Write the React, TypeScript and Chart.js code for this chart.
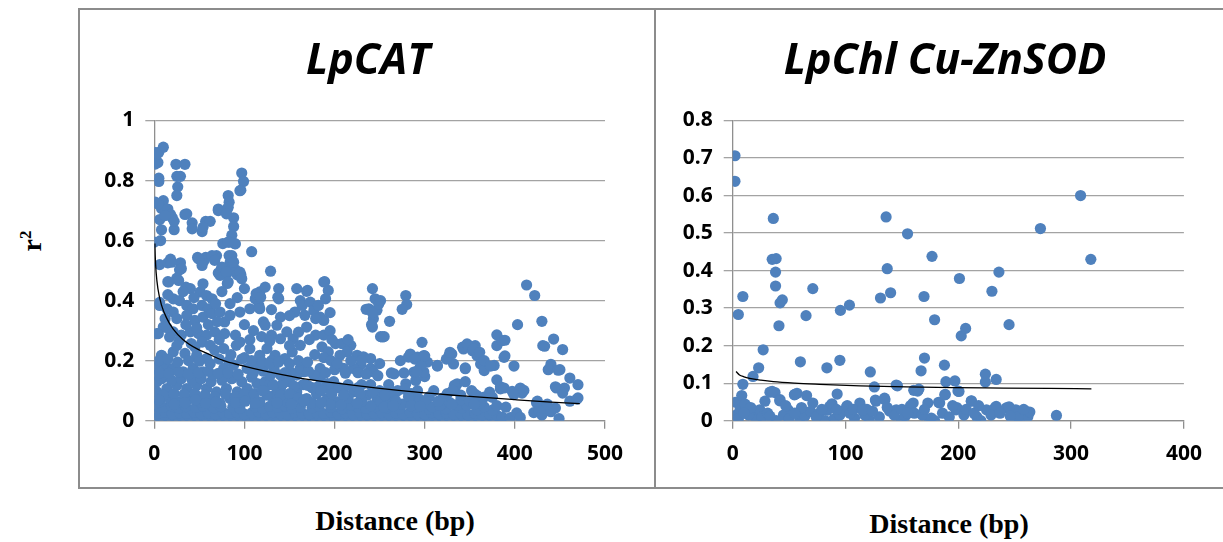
import React, { useEffect, useRef } from 'react';
import { Chart, registerables } from 'chart.js';

Chart.register(...registerables);

// ---------- LpCAT data (distance bp, r^2) ----------
const lpcatHigh: number[][] = [
  [0, 0.894], [5, 0.894], [4, 0.86], [0, 0.86], [10, 0.911], [5, 0.808], [5, 0.797], [1, 0.728], [10, 0.733], [8, 0.707],
  [6, 0.67], [0, 0.595], [7, 0.6], [8, 0.636], [24, 0.854], [34, 0.854], [25, 0.814], [29, 0.814], [26, 0.779], [25, 0.75],
  [15, 0.705], [18, 0.687], [20, 0.676], [22, 0.636], [22, 0.664], [34, 0.687], [42, 0.659], [53, 0.63], [57, 0.664], [62, 0.664],
  [71, 0.705], [81, 0.705], [82, 0.75], [83, 0.728], [88, 0.676], [88, 0.647], [86, 0.618], [83, 0.595], [76, 0.59], [89, 0.59],
  [97, 0.825], [99, 0.797], [96, 0.768], [108, 0.563], [6, 0.52], [15, 0.526], [18, 0.538], [29, 0.526], [28, 0.503], [25, 0.475],
  [15, 0.463], [48, 0.544], [57, 0.544], [55, 0.532], [69, 0.55], [71, 0.492], [74, 0.503], [81, 0.492], [81, 0.457], [83, 0.55],
  [84, 0.526], [90, 0.503], [92, 0.486], [96, 0.486], [129, 0.498], [413, 0.452], [422, 0.417], [19, 0.528], [30, 0.506], [49, 0.539],
  [53, 0.517], [64, 0.55], [67, 0.534], [75, 0.512], [73, 0.484], [80, 0.495], [82, 0.462], [86, 0.55], [88, 0.528], [95, 0.495],
  [97, 0.473], [27, 0.467], [16, 0.462], [189, 0.463], [12, 0.683], [3, 0.888], [1, 0.855], [36, 0.689], [42, 0.639], [54, 0.644],
  [71, 0.7], [82, 0.711], [80, 0.689], [90, 0.589], [82, 0.595], [95, 0.766], [4, 0.722],
];

const lpcatMid: number[][] = [
  [21, 0.406], [28, 0.4], [36, 0.384], [43, 0.373], [53, 0.384], [60, 0.373], [6, 0.384], [14, 0.373], [21, 0.362], [12, 0.34],
  [25, 0.34], [36, 0.351], [45, 0.334], [54, 0.345], [64, 0.357], [73, 0.362], [10, 0.312], [21, 0.296], [30, 0.285], [40, 0.296],
  [49, 0.29], [58, 0.285], [67, 0.296], [4.5, 0.29], [17, 0.279], [28, 0.268], [41, 0.257], [53, 0.262], [62, 0.251], [78, 0.29],
  [78, 0.329], [90, 0.285], [91, 0.251], [84, 0.351], [95, 0.362], [106, 0.373], [116, 0.384], [112, 0.406], [117, 0.429], [8, 0.218],
  [21, 0.229], [34, 0.224], [47, 0.218], [58, 0.207], [67, 0.235], [77, 0.24], [95, 0.262], [106, 0.24], [117, 0.218], [1, 0.174],
  [3, 0.152], [12, 0.185], [21, 0.174], [32, 0.163], [43, 0.174], [54, 0.163], [65, 0.152], [77, 0.174], [88, 0.185], [103, 0.174],
  [114, 0.185], [40, 0.44], [51, 0.429], [54, 0.456], [58, 0.417], [64, 0.406], [35, 0.445], [6, 0.394], [8, 0.216], [3, 0.29],
  [123, 0.445], [138, 0.44], [138, 0.406], [158, 0.44], [169, 0.431], [188, 0.462], [193, 0.434], [190, 0.406], [117, 0.417], [117, 0.373],
  [121, 0.329], [123, 0.318], [140, 0.345], [136, 0.318], [130, 0.285], [140, 0.273], [147, 0.296], [154, 0.273], [162, 0.251], [153, 0.229],
  [145, 0.207], [134, 0.218], [125, 0.24], [156, 0.362], [162, 0.4], [164, 0.384], [173, 0.395], [177, 0.368], [182, 0.384], [184, 0.345],
  [188, 0.334], [179, 0.34], [167, 0.351], [169, 0.312], [179, 0.285], [188, 0.285], [186, 0.246], [193, 0.229], [201, 0.257], [208, 0.257],
  [218, 0.251], [214, 0.229], [206, 0.218], [225, 0.218], [232, 0.213], [240, 0.207], [229, 0.185], [221, 0.174], [210, 0.174], [240, 0.174],
  [243, 0.163], [242, 0.44], [245, 0.406], [238, 0.373], [247, 0.368], [243, 0.34], [242, 0.312], [253, 0.279], [184, 0.174], [177, 0.152],
  [166, 0.163], [158, 0.152], [151, 0.163], [140, 0.152], [129, 0.152], [235, 0.371], [242, 0.36], [249, 0.389], [251, 0.4], [241, 0.32],
  [251, 0.28], [261, 0.331], [170, 0.434], [137, 0.411], [113, 0.423], [118, 0.411],
  [255, 0.28], [279, 0.417], [280, 0.387], [275, 0.371], [297, 0.261], [273, 0.2], [282, 0.212], [292, 0.212], [299, 0.217], [303, 0.195],
  [295, 0.178], [288, 0.162], [299, 0.162], [266, 0.156], [314, 0.184], [327, 0.217], [330, 0.222], [332, 0.189], [343, 0.239], [349, 0.25],
  [345, 0.173], [353, 0.233], [358, 0.217], [362, 0.189], [366, 0.167], [380, 0.25], [386, 0.267], [388, 0.211], [377, 0.184], [356, 0.25],
  [284, 0.222], [289, 0.205], [296, 0.182], [291, 0.164], [263, 0.159], [277, 0.159], [300, 0.216], [314, 0.182], [324, 0.205], [328, 0.228],
  [342, 0.245], [347, 0.256], [354, 0.24], [361, 0.228], [366, 0.2], [373, 0.182], [380, 0.286], [389, 0.268], [389, 0.216], [399, 0.182],
  [403, 0.32], [430, 0.331], [431, 0.25], [443, 0.272], [433, 0.248], [453, 0.237], [440, 0.188], [437, 0.17], [448, 0.168], [450, 0.17],
  [14, 0.31], [35, 0.32], [47, 0.31], [60, 0.32], [70, 0.33], [100, 0.32], [110, 0.3], [119, 0.28], [106, 0.27], [128, 0.265],
  [150, 0.25], [172, 0.27], [160, 0.295], [195, 0.3], [197, 0.27], [215, 0.27], [25, 0.25], [45, 0.245], [72, 0.27], [85, 0.22],
  [100, 0.21], [130, 0.2], [178, 0.22], [188, 0.21], [150, 0.35], [195, 0.36], [130, 0.37], [15, 0.42], [32, 0.43], [100, 0.44],
  [92, 0.41], [75, 0.43], [84, 0.39], [68, 0.39], [44, 0.41],
  [6, 0.16], [16, 0.158], [27, 0.162], [38, 0.155], [49, 0.16], [60, 0.165], [71, 0.158], [82, 0.16], [93, 0.155], [110, 0.16],
  [121, 0.165], [133, 0.17], [145, 0.16], [162, 0.175], [171, 0.165], [190, 0.16], [200, 0.17], [212, 0.158], [226, 0.16], [235, 0.155],
  [248, 0.15], [5, 0.2], [15, 0.205], [26, 0.195], [38, 0.2], [50, 0.198], [62, 0.19], [72, 0.205], [83, 0.2], [97, 0.205],
  [108, 0.2], [120, 0.195], [128, 0.19], [138, 0.195], [150, 0.19], [160, 0.2], [170, 0.195], [196, 0.2], [203, 0.19], [218, 0.2],
  [230, 0.2], [250, 0.19],
];

const lpcatLow: number[][] = [
  [3, 0.13], [3, 0.096], [14, 0.107], [25, 0.118], [36, 0.107], [47, 0.118], [58, 0.107], [69, 0.096], [80, 0.107], [92, 0.096],
  [103, 0.107], [114, 0.124], [6, 0.063], [17, 0.074], [28, 0.063], [40, 0.074], [51, 0.063], [62, 0.069], [73, 0.058], [84, 0.074],
  [95, 0.063], [106, 0.074], [117, 0.063], [8, 0.14], [19, 0.135], [30, 0.14], [42, 0.135], [52, 0.14], [63, 0.13], [75, 0.135],
  [86, 0.14], [97, 0.13], [108, 0.145], [10, 0.085], [22, 0.09], [33, 0.088], [45, 0.09], [56, 0.085], [67, 0.08], [79, 0.088],
  [90, 0.08], [100, 0.088], [111, 0.09], [123, 0.13], [184, 0.141], [192, 0.124], [199, 0.13], [210, 0.107], [221, 0.096], [236, 0.085],
  [247, 0.074], [251, 0.063], [140, 0.107], [158, 0.096], [169, 0.074], [192, 0.074], [203, 0.063], [218, 0.052], [132, 0.074], [147, 0.063],
  [128, 0.12], [150, 0.13], [165, 0.12], [175, 0.11], [135, 0.09], [180, 0.09], [230, 0.12], [250, 0.1], [279, 0.123], [290, 0.134],
  [336, 0.123], [334, 0.112], [325, 0.09], [355, 0.09], [358, 0.084], [366, 0.079], [384, 0.106], [266, 0.079], [288, 0.068], [308, 0.046],
  [317, 0.051], [336, 0.051], [347, 0.051], [366, 0.046], [300, 0.147], [333, 0.118], [331, 0.101], [375, 0.078], [345, 0.176], [380, 0.136],
  [384, 0.113], [260, 0.12], [270, 0.1], [310, 0.1], [320, 0.075], [345, 0.13], [388, 0.109], [397, 0.098], [406, 0.109], [408, 0.092],
  [399, 0.087], [425, 0.065], [410, 0.101], [446, 0.109], [455, 0.109], [453, 0.092], [461, 0.065], [470, 0.076], [461, 0.142], [470, 0.12],
  [445, 0.113], [469, 0.072], [125, 0.085], [155, 0.08], [175, 0.06], [195, 0.055], [215, 0.075], [240, 0.05], [230, 0.065], [260, 0.06],
  [275, 0.055], [285, 0.09], [295, 0.07], [305, 0.08], [340, 0.07], [350, 0.065],
  [132, 0.12], [143, 0.125], [155, 0.115], [170, 0.118], [181, 0.112], [195, 0.105], [205, 0.11], [215, 0.12], [226, 0.11], [240, 0.12],
  [262, 0.1], [278, 0.105], [120, 0.1], [140, 0.085], [150, 0.09], [160, 0.075], [185, 0.1], [197, 0.09], [210, 0.085], [228, 0.09],
  [242, 0.095], [256, 0.085], [268, 0.065], [282, 0.08], [292, 0.1], [300, 0.065], [315, 0.065], [328, 0.06], [340, 0.085], [352, 0.1],
  [362, 0.06], [372, 0.095], [5, 0.07], [22, 0.055], [34, 0.06], [46, 0.07], [57, 0.058], [68, 0.062], [90, 0.06], [101, 0.065],
  [112, 0.058], [136, 0.06], [152, 0.055], [166, 0.065], [185, 0.06], [207, 0.052], [225, 0.058], [255, 0.045], [265, 0.05], [285, 0.05],
  [295, 0.048], [330, 0.055], [355, 0.055], [380, 0.05], [390, 0.045],
];

const lpcatBase: number[][] = [
  [0, 0.008], [8, 0.004], [16, 0.006], [24, 0.003], [32, 0.007], [40, 0.004], [48, 0.006], [56, 0.003], [64, 0.008], [72, 0.004],
  [80, 0.005], [88, 0.003], [96, 0.007], [104, 0.004], [112, 0.006], [120, 0.003], [128, 0.005], [136, 0.004], [144, 0.007], [152, 0.003],
  [160, 0.005], [168, 0.006], [176, 0.003], [184, 0.005], [192, 0.004], [200, 0.007], [208, 0.003], [216, 0.005], [224, 0.004], [232, 0.006],
  [240, 0.003], [248, 0.005], [256, 0.004], [264, 0.007], [272, 0.003], [280, 0.005], [288, 0.004], [296, 0.006], [304, 0.003], [312, 0.005],
  [320, 0.004], [328, 0.007], [336, 0.003], [344, 0.005], [352, 0.004], [360, 0.006], [368, 0.003], [376, 0.005], [384, 0.004],
  [4, 0.024], [12, 0.028], [20, 0.022], [28, 0.027], [36, 0.024], [44, 0.029], [52, 0.023], [60, 0.026], [68, 0.022], [76, 0.028],
  [84, 0.024], [92, 0.027], [100, 0.022], [108, 0.026], [116, 0.029], [124, 0.023], [132, 0.027], [140, 0.024], [148, 0.022], [156, 0.028],
  [164, 0.025], [172, 0.022], [180, 0.027], [188, 0.024], [196, 0.029], [204, 0.022], [212, 0.026], [220, 0.024], [228, 0.028], [236, 0.022],
  [244, 0.025], [252, 0.027], [260, 0.023], [268, 0.026], [276, 0.022], [284, 0.028], [292, 0.024], [300, 0.021], [308, 0.027], [316, 0.023],
  [324, 0.026], [332, 0.022], [340, 0.025], [348, 0.02], [356, 0.024], [364, 0.019], [372, 0.022], [380, 0.018],
  [2, 0.048], [10, 0.045], [19, 0.05], [27, 0.042], [35, 0.047], [46, 0.044], [54, 0.049], [66, 0.043], [74, 0.047], [87, 0.045],
  [95, 0.041], [112, 0.046], [120, 0.042], [128, 0.048], [137, 0.044], [145, 0.05], [153, 0.041], [162, 0.046], [175, 0.043], [183, 0.048],
  [196, 0.044], [208, 0.04], [226, 0.045], [235, 0.041], [245, 0.047], [258, 0.043], [272, 0.04], [290, 0.044], [305, 0.038], [323, 0.04],
  [341, 0.042], [358, 0.036], [375, 0.035], [386, 0.012], [395, 0.01], [402, 0.026], [406, 0.011], [421, 0.027], [427, 0.032], [430, 0.019],
  [432, 0.042], [440, 0.03], [445, 0.042], [449, 0.007], [436, 0.055], [424, 0.06],
];

const lpcatTrendX = [0.6, 1, 2, 4, 8, 14, 21, 32, 47, 58, 77, 95, 123, 160, 200, 250, 300, 350, 400, 440, 472];
const lpcatTrendY = [0.59, 0.55, 0.495, 0.44, 0.385, 0.34, 0.305, 0.27, 0.24, 0.225, 0.2, 0.185, 0.165, 0.143, 0.126, 0.108, 0.093, 0.081, 0.07, 0.062, 0.057];

// ---------- LpChl Cu-ZnSOD data ----------
const sodHigh: number[][] = [
  [2, 0.706], [2, 0.638], [5, 0.283], [9, 0.331], [36, 0.539], [35, 0.43], [38.5, 0.432], [38, 0.396], [38, 0.359], [42, 0.314],
  [44, 0.322], [41, 0.253], [71, 0.352], [65, 0.28], [27, 0.189], [23, 0.141], [18, 0.118], [9, 0.097], [60, 0.157], [83.5, 0.141],
  [95, 0.161], [95.5, 0.294], [103.5, 0.308], [92.6, 0.071], [122, 0.13], [125.6, 0.09], [131, 0.327], [136, 0.543], [137, 0.405], [140, 0.341],
  [146, 0.093], [155, 0.498], [169.6, 0.331], [170, 0.167], [167, 0.133], [176.7, 0.438], [179, 0.269], [160.5, 0.081], [165, 0.084], [187.7, 0.148],
  [189, 0.104], [197, 0.106], [201, 0.379], [202.6, 0.226], [206.5, 0.246], [200.6, 0.078], [224, 0.124], [224, 0.103], [233.6, 0.11], [229.8, 0.345],
  [236, 0.396], [245, 0.256], [272.8, 0.512], [308.4, 0.6], [317.5, 0.43], [287, 0.014], [188, 0.069],
];

const sodLow: number[][] = [
  [2.7, 0.049], [8, 0.067], [3, 0.015], [6.5, 0.029], [12.4, 0.038], [18, 0.02], [24, 0.029], [28.6, 0.052], [33, 0.076], [37.5, 0.075],
  [42, 0.056], [49, 0.029], [55, 0.07], [57, 0.073], [65.5, 0.067], [71, 0.047], [77, 0.02], [86, 0.038], [101, 0.038], [112.7, 0.047],
  [127, 0.052], [135, 0.056], [145, 0.095], [145, 0.029], [160, 0.047], [164, 0.079], [173, 0.047], [183.5, 0.047], [188.5, 0.07], [199.7, 0.079],
  [198, 0.029], [211.5, 0.052], [225, 0.029], [233.6, 0.038], [242.5, 0.034], [251, 0.029], [260, 0.025], [261.7, 0.011], [254, 0.002], [174.6, 0.002],
  [11, 0.044], [54.7, 0.069], [41.7, 0.053], [35, 0.078], [84, 0.028], [101.6, 0.04], [113, 0.04], [126.5, 0.055], [134.6, 0.06], [139, 0.026],
  [157.6, 0.04], [182.5, 0.049], [211.6, 0.053], [232.7, 0.035], [245, 0.037], [263.4, 0.023], [253, 0.01], [176, 0.007], [179, 0], [198.7, 0.035],
  [216.5, 0.01], [220, 0], [149.5, 0.003], [121, 0.003], [82, 0], [38.5, 0], [20.7, 0.003], [90, 0.005], [59.5, 0.007], [108, 0.007],
  [5, 0.005], [14, 0.015], [26, 0.01], [31, 0.02], [45, 0.015], [50, 0.005], [64, 0.012], [69, 0.025], [74, 0.01], [79, 0.03],
  [95, 0.015], [98, 0.025], [104, 0.02], [117, 0.015], [119, 0.03], [130, 0.01], [143, 0.015], [153, 0.012], [161, 0.02], [168, 0.015],
  [186, 0.02], [192, 0.01], [205, 0.015], [207, 0.03], [214, 0.02], [229, 0.015], [237, 0.02], [246, 0.012], [258, 0.03], [16, 0.035],
  [47, 0.04], [61, 0.035], [88, 0.045], [107, 0.03], [115, 0.028], [124, 0.025], [137, 0.035], [150, 0.03], [155, 0.02], [170, 0.03],
  [195, 0.04], [218, 0.04], [10, 0.02], [33, 0.012], [55, 0.02], [92, 0.03],
];

const sodTrendX = [3, 6, 10, 15, 25, 36, 55, 77, 113, 154, 195, 240, 281, 318];
const sodTrendY = [0.131, 0.122, 0.117, 0.113, 0.108, 0.104, 0.1, 0.097, 0.093, 0.09, 0.088, 0.087, 0.086, 0.085];

const lpcatXTicks = [0, 100, 200, 300, 400, 500];
const lpcatYTicks = [0, 0.2, 0.4, 0.6, 0.8, 1];
const sodXTicks = [0, 100, 200, 300, 400];
const sodYTicks = [0, 0.1, 0.2, 0.3, 0.4, 0.5, 0.6, 0.7, 0.8];

const GRID = '#a3a3a3';
const AXIS = '#8f8f8f';
const DOT = '#4F81BD';
const SANS = '"Open Sans", Lato, sans-serif';
const TICK_FONT = { family: SANS, size: 21, weight: 'bold' as const };

type PanelProps = {
  title: string;
  titleX: number;
  points: number[][];
  trendX: number[];
  trendY: number[];
  xTicks: number[];
  yTicks: number[];
  width: number;
  height: number;
  yAxisWidth: number;
  rightPad: number;
};

function Panel(p: PanelProps) {
  const ref = useRef<HTMLCanvasElement | null>(null);
  useEffect(() => {
    if (!ref.current) return;
    const titlePlugin = {
      id: 'panelTitle',
      afterDraw(chart: any) {
        const ctx = chart.ctx;
        ctx.save();
        ctx.font = `italic bold 43px ${SANS}`;
        ctx.fillStyle = '#000';
        ctx.textAlign = 'center';
        ctx.textBaseline = 'middle';
        ctx.fillText(p.title, p.titleX, 51);
        ctx.restore();
      },
    };
    const chart = new Chart(ref.current, {
      type: 'scatter',
      data: {
        datasets: [
          {
            type: 'line',
            data: p.trendX.map((x, i) => ({ x, y: p.trendY[i] })),
            borderColor: '#000',
            borderWidth: 1.3,
            pointRadius: 0,
            fill: false,
            cubicInterpolationMode: 'monotone',
            order: 0,
          } as any,
          {
            type: 'scatter',
            data: p.points.map(([x, y]) => ({ x, y })),
            backgroundColor: DOT,
            borderWidth: 0,
            pointRadius: 5.6,
            pointHoverRadius: 5.6,
            order: 1,
          },
        ],
      },
      options: {
        responsive: false,
        maintainAspectRatio: false,
        animation: false,
        events: [],
        layout: { padding: { left: 0, right: p.rightPad, top: 109.5, bottom: 0 } },
        plugins: {
          legend: { display: false },
          tooltip: { enabled: false },
          title: { display: false },
        },
        scales: {
          x: {
            type: 'linear',
            min: p.xTicks[0],
            max: p.xTicks[p.xTicks.length - 1],
            afterBuildTicks: (s: any) => {
              s.ticks = p.xTicks.map((v) => ({ value: v }));
            },
            afterFit: (s: any) => {
              s.height = 64.3;
            },
            ticks: { color: '#000', font: TICK_FONT, padding: 13, maxRotation: 0, autoSkip: false },
            grid: { drawOnChartArea: false, drawTicks: true, tickLength: 8, color: AXIS, lineWidth: 1.3 },
            border: { display: true, color: AXIS, width: 1.3 },
          },
          y: {
            type: 'linear',
            min: p.yTicks[0],
            max: p.yTicks[p.yTicks.length - 1],
            afterBuildTicks: (s: any) => {
              s.ticks = p.yTicks.map((v) => ({ value: v }));
            },
            afterFit: (s: any) => {
              s.width = p.yAxisWidth;
            },
            ticks: {
              color: '#000',
              font: TICK_FONT,
              padding: 11,
              autoSkip: false,
              callback: (v: any) => String(+Number(v).toFixed(1)),
            },
            grid: { color: GRID, lineWidth: 1.3, tickLength: 9, drawTicks: true },
            border: { display: true, color: AXIS, width: 1.3 },
          },
        },
      },
      plugins: [titlePlugin],
    } as any);
    return () => chart.destroy();
  }, []);
  return <canvas ref={ref} width={p.width} height={p.height} style={{ width: p.width, height: p.height, display: 'block' }} />;
}

const serif = '"Liberation Serif", "Times New Roman", serif';

export default function App() {
  const lpcatPoints = [...lpcatBase, ...lpcatLow, ...lpcatMid, ...lpcatHigh];
  const sodPoints = [...sodLow, ...sodHigh];
  return (
    <div style={{ position: 'absolute', left: 0, top: 0, width: 1223, height: 542, overflow: 'hidden', background: '#fff' }}>
      <div style={{ position: 'absolute', left: 78, top: 8, width: 578, height: 481, border: '2.6px solid #8c8c8c', boxSizing: 'border-box' }} />
      <div style={{ position: 'absolute', left: 654, top: 8, width: 620, height: 481, border: '2.6px solid #8c8c8c', boxSizing: 'border-box' }} />
      <div style={{ position: 'absolute', left: 81, top: 11 }}>
        <Panel title="LpCAT" titleX={287} points={lpcatPoints} trendX={lpcatTrendX} trendY={lpcatTrendY} xTicks={lpcatXTicks} yTicks={lpcatYTicks}
          width={571} height={474} yAxisWidth={73.3} rightPad={47} />
      </div>
      <div style={{ position: 'absolute', left: 657, top: 11 }}>
        <Panel title="LpChl Cu-ZnSOD" titleX={288} points={sodPoints} trendX={sodTrendX} trendY={sodTrendY} xTicks={sodXTicks} yTicks={sodYTicks}
          width={566} height={474} yAxisWidth={75.7} rightPad={39.1} />
      </div>
      <div style={{ position: 'absolute', left: 32, top: 241, transform: 'translate(-50%, -50%) rotate(-90deg)', fontFamily: serif, fontWeight: 'bold', fontSize: 28, whiteSpace: 'nowrap', lineHeight: 1 }}>
        r<sup style={{ fontSize: '0.6em', verticalAlign: 'super', lineHeight: 0 }}>2</sup>
      </div>
      <div style={{ position: 'absolute', left: 395, top: 521, transform: 'translate(-50%, -50%)', fontFamily: serif, fontWeight: 'bold', fontSize: 28, whiteSpace: 'nowrap' }}>
        Distance (bp)
      </div>
      <div style={{ position: 'absolute', left: 949, top: 524, transform: 'translate(-50%, -50%)', fontFamily: serif, fontWeight: 'bold', fontSize: 28, whiteSpace: 'nowrap' }}>
        Distance (bp)
      </div>
    </div>
  );
}
